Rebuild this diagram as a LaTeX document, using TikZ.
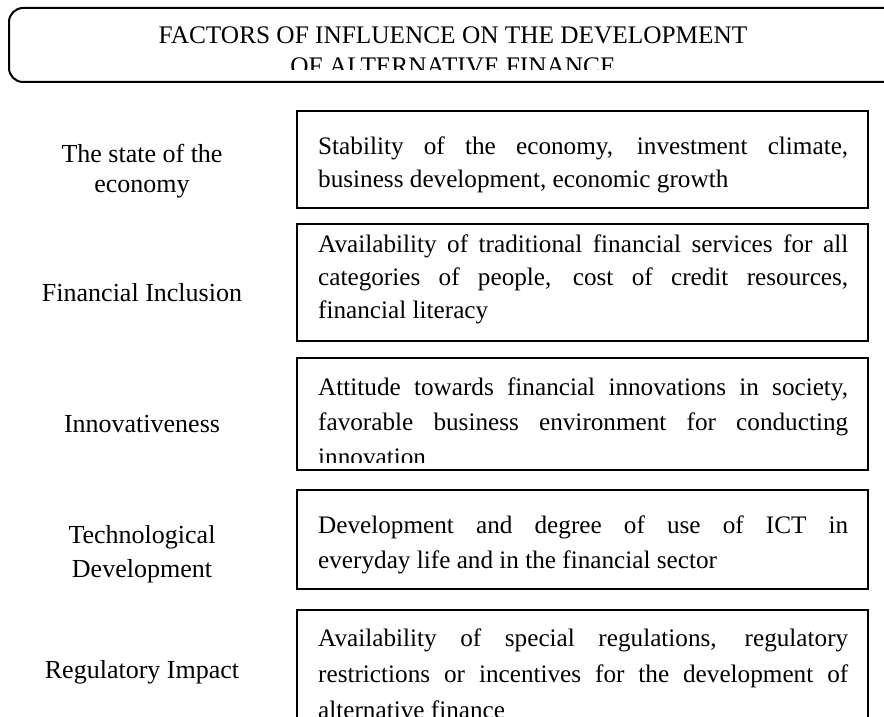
\documentclass[tikz,border=0pt]{standalone}
\usepackage{fontspec}
\setmainfont{Liberation Serif}
\tikzset{%
   framebox/.style={draw=black, line width=2pt},%
   titletext/.style={align=center, inner sep=0pt, anchor=base, font=\fontsize{25.3}{32}\selectfont},%
   factorlabel/.style={align=center, inner sep=0pt, anchor=base, font=\fontsize{26}{#1}\selectfont},%
   factorlabel/.default=33,%
   factortext/.style={text width=530pt, align=justify, inner sep=0pt, anchor=base west,%
      font=\fontsize{25.2}{#1}\selectfont,%
      execute at begin node={\tolerance=10000 \hyphenpenalty=10000 }},%
   factortext/.default=33%
}
\begin{document}
\begin{tikzpicture}[x=1pt,y=-1pt]%
      % ~ page
      \useasboundingbox (0,0) rectangle (884,717);%
      \clip (0,0) rectangle (884,717);%
      % ~ title
      \draw[framebox, rounded corners=14pt] (9,8) rectangle (930,82);%
      \begin{scope}
         \clip (9,8) rectangle (884,70);%
         \node[titletext] (title) at (453,75)
            {FACTORS OF INFLUENCE ON THE DEVELOPMENT\\OF ALTERNATIVE FINANCE};
      \end{scope}
      % ~ economy
      \draw[framebox] (297,111) rectangle (868,208);%
      \node[factorlabel=30] (economy) at (142,192) {The state of the\\economy};
      \node[factortext] (economytext) at (318,154)
         {Stability of the economy, investment climate,\linebreak business development, economic growth};
      % ~ inclusion
      \draw[framebox] (297,224) rectangle (868,341);%
      \node[factorlabel] (inclusion) at (142,301) {Financial Inclusion};
      \begin{scope}
         \clip (297,224) rectangle (868,323);%
         \node[factortext] (inclusiontext) at (318,252)
            {Availability of traditional financial services for all\linebreak categories of people, cost of credit resources,\linebreak financial literacy};
      \end{scope}
      % ~ innovation
      \draw[framebox] (297,358) rectangle (868,470);%
      \node[factorlabel] (innovation) at (142,432) {Innovativeness};
      \begin{scope}
         \clip (297,358) rectangle (868,462);%
         \node[factortext=35] (innovationtext) at (318,395)
            {Attitude towards financial innovations in society,\linebreak favorable business environment for conducting\linebreak innovation};
      \end{scope}
      % ~ technology
      \draw[framebox] (297,490) rectangle (868,589);%
      \node[factorlabel=34] (technology) at (142,577) {Technological\\Development};
      \node[factortext=35] (technologytext) at (318,533)
         {Development and degree of use of ICT in\linebreak everyday life and in the financial sector};
      % ~ regulation
      \draw[framebox] (297,610) rectangle (868,760);%
      \node[factorlabel] (regulation) at (142,678) {Regulatory Impact};
      \node[factortext=36] (regulationtext) at (318,646)
         {Availability of special regulations, regulatory\linebreak restrictions or incentives for the development of\linebreak alternative finance};
         %
   \end{tikzpicture}
\end{document}
